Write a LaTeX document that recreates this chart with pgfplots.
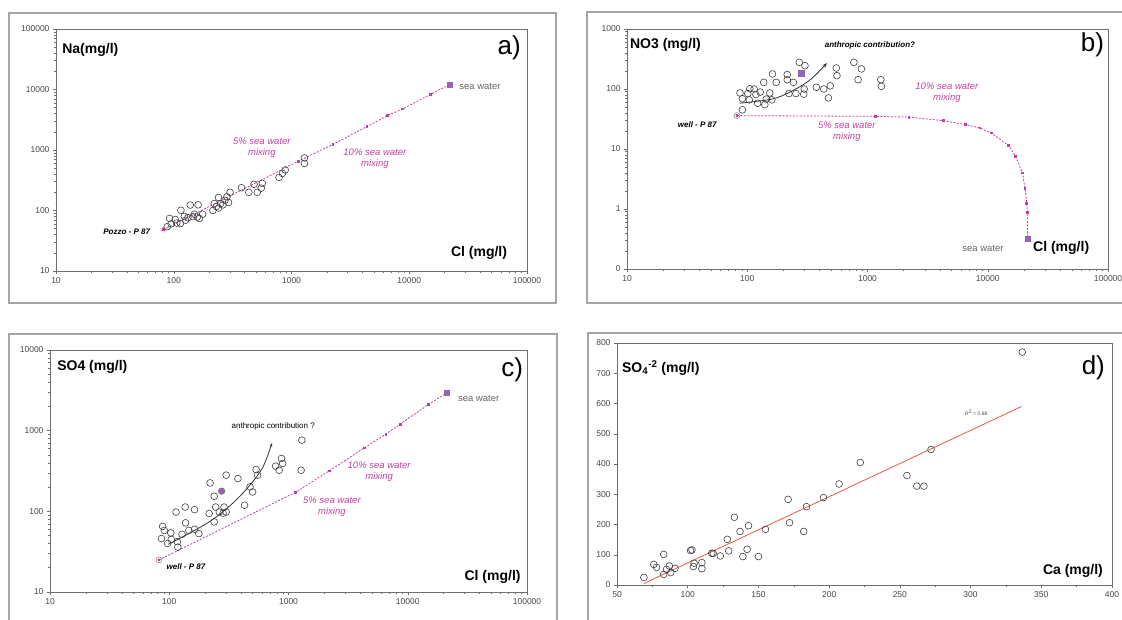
\documentclass[border=0pt]{standalone}
\usepackage{fontspec}
\setmainfont{Liberation Sans}
\usepackage{pgfplots}
\pgfplotsset{compat=1.18}
\usetikzlibrary{arrows.meta}
\definecolor{mix}{RGB}{196,64,160}
\definecolor{sw}{RGB}{150,100,180}
\definecolor{framec}{RGB}{165,165,165}
\definecolor{axc}{RGB}{110,110,110}
\definecolor{trend}{RGB}{232,90,75}
\pgfplotsset{
 panel/.style={scale only axis, clip=false,
   axis line style={axc, line width=0.7pt},
   tick style={axc, line width=0.5pt},
   tick align=outside, xtick pos=bottom, ytick pos=left,
   major tick length=3pt, minor tick length=2pt,
   tick label style={font=\fontsize{8.5}{9}\selectfont, text=black!72},
   /pgf/number format/assume math mode=true,
   /pgf/number format/1000 sep={},
 },
 logp/.style={panel, xmin=10, xmax=100000,
   xtick={10,100,1000,10000,100000}, xticklabels={10,100,1000,10000,100000},
   minor xtick={20,30,40,50,60,70,80,90,200,300,400,500,600,700,800,900,2000,3000,4000,5000,6000,7000,8000,9000,20000,30000,40000,50000,60000,70000,80000,90000}},
 obs/.style={only marks, mark=o, mark size=3.4pt, black!75, mark options={line width=0.6pt}},
 mixl/.style={mix, line width=0.8pt, dash pattern=on 2pt off 1.5pt, mark=square*, mark size=0.9pt, mark options={solid}},
 swm/.style={only marks, mark=square*, mark size=2.6pt, sw},
}
\tikzset{
 lab/.style={font=\fontsize{14}{16}\selectfont\bfseries, inner sep=0pt},
 big/.style={font=\fontsize{26}{28}\selectfont, inner sep=0pt},
 mixtxt/.style={font=\fontsize{9.5}{11}\selectfont\itshape, text=mix, align=center, inner sep=0pt},
 swtxt/.style={font=\fontsize{9.5}{11}\selectfont, text=black!60, inner sep=0pt},
 welltxt/.style={font=\fontsize{8}{9}\selectfont\bfseries\itshape, inner sep=0pt},
}
\begin{document}
\begin{tikzpicture}
\useasboundingbox (0,0) rectangle (1122pt,-620pt);
\fill[white] (0,0) rectangle (1122pt,-620pt);
\draw[framec, line width=1.2pt] (9pt,-13pt) rectangle (556pt,-303pt);
\draw[framec, line width=1.2pt] (587pt,-12pt) rectangle (1135pt,-303pt);
\draw[framec, line width=1.2pt] (9pt,-334pt) rectangle (557pt,-640pt);
\draw[framec, line width=1.2pt] (588pt,-333pt) rectangle (1135pt,-640pt);

% ---------------- a)
\begin{axis}[xmode=log, ymode=log, logp, at={(56pt,-271pt)}, anchor=south west, width=471pt, height=242pt,
  ymin=10, ymax=100000, ytick={10,100,1000,10000,100000}, yticklabels={10,100,1000,10000,100000},
  minor ytick={20,30,40,50,60,70,80,90,200,300,400,500,600,700,800,900,2000,3000,4000,5000,6000,7000,8000,9000,20000,30000,40000,50000,60000,70000,80000,90000}]
\addplot[mixl] coordinates {(82,48)(1150,658)(2250,1240)(4370,2440)(6550,3720)(8790,4780)(15100,8300)(21900,11950)};
\addplot[swm] coordinates {(21900,11950)};
\addplot[only marks, mark=o, mark size=2.5pt, mix!60] coordinates {(82,48)};
\addplot[obs] coordinates {(88,54)(92,74)(95,60)(103,71)(106,62)(114,61)(115,101)(123,80)(126,69)(132,76)(138,123)(145,79)(150,87)(158,78)(161,124)(165,74)(176,87)(215,100)(221,130)(230,116)(240,164)(240,110)(250,130)(262,124)(272,147)(283,168)(292,136)(301,200)(376,238)(434,200)(481,271)(512,200)(554,234)(565,280)(784,352)(837,410)(884,468)(1287,740)(1287,600)};
\node[lab, anchor=west] at (rel axis cs:0.013,0.913) {Na(mg/l)};
\node[big, anchor=east] at (rel axis cs:0.987,0.921) {a)};
\node[lab, anchor=east] at (rel axis cs:0.958,0.074) {Cl (mg/l)};
\node[welltxt, anchor=east] at (rel axis cs:0.2,0.161) {Pozzo - P 87};
\node[mixtxt] at (rel axis cs:0.437,0.508) {5\% sea water\\mixing};
\node[mixtxt] at (rel axis cs:0.677,0.465) {10\% sea water\\mixing};
\node[swtxt, anchor=west] at (rel axis cs:0.856,0.764) {sea water};
\end{axis}

% ---------------- b)
\begin{axis}[xmode=log, ymode=log, logp, at={(627pt,-269pt)}, anchor=south west, width=481pt, height=240pt,
  ymin=0.1, ymax=1000, ytick={0.1,1,10,100,1000}, yticklabels={0,1,10,100,1000},
  minor ytick={0.2,0.3,0.4,0.5,0.6,0.7,0.8,0.9,2,3,4,5,6,7,8,9,20,30,40,50,60,70,80,90,200,300,400,500,600,700,800,900}]
\addplot[mixl] coordinates {(82,36)(1164,35)(2213,34)(4295,29.6)(6520,25.5)(8610,22.4)(10720,18.5)(14920,11.4)(17040,7.5)(19470,4)(20380,2.2)(21100,1.24)(21300,0.87)(21470,0.316)};
\addplot[swm] coordinates {(21470,0.316)};
\addplot[only marks, mark=o, mark size=3pt, black!60] coordinates {(82,36)};
\addplot[only marks, mark=*, mark size=1.2pt, mix] coordinates {(82,36)};
\addplot[obs] coordinates {(87,86)(91,45)(91,69)(101,84)(105,101)(104,66)(114,100)(118,81)(122,58)(128,89)(137,129)(140,55)(144,68)(154,86)(162,178)(160,66)(174,129)(215,174)(215,143)(222,84)(242,129)(254,84)(271,278)(302,245)(295,82)(298,100)(375,107)(433,100)(473,71)(490,113)(550,224)(557,167)(770,278)(890,216)(835,143)(1290,143)(1305,111)};
\addplot[only marks, mark=square*, mark size=3pt, sw] coordinates {(281,180)};
\addplot[black!80, line width=0.8pt, smooth, -{Stealth[length=5pt]}] coordinates {(87,58)(161,68)(227,89)(332,141)(460,271)};
\node[lab, anchor=west] at (rel axis cs:0.006,0.933) {NO3 (mg/l)};
\node[welltxt] at (rel axis cs:0.505,0.933) {anthropic contribution?};
\node[big, anchor=east] at (rel axis cs:0.992,0.933) {b)};
\node[welltxt] at (rel axis cs:0.146,0.6) {well - P 87};
\node[mixtxt] at (rel axis cs:0.665,0.735) {10\% sea water\\mixing};
\node[mixtxt] at (rel axis cs:0.457,0.571) {5\% sea water\\mixing};
\node[swtxt] at (rel axis cs:0.74,0.0875) {sea water};
\node[lab, anchor=west] at (rel axis cs:0.844,0.0875) {Cl (mg/l)};
\end{axis}

% ---------------- c)
\begin{axis}[xmode=log, ymode=log, logp, at={(50pt,-592pt)}, anchor=south west, width=477pt, height=242pt,
  ymin=10, ymax=10000, ytick={10,100,1000,10000}, yticklabels={10,100,1000,10000},
  minor ytick={20,30,40,50,60,70,80,90,200,300,400,500,600,700,800,900,2000,3000,4000,5000,6000,7000,8000,9000}]
\addplot[mixl] coordinates {(82,25)(1150,173)(2200,318)(4330,613)(6550,906)(8630,1206)(15000,2120)(21200,2950)};
\addplot[swm] coordinates {(21200,2950)};
\addplot[only marks, mark=o, mark size=3pt, black!60] coordinates {(82,25)};
\addplot[only marks, mark=*, mark size=1.2pt, mix] coordinates {(82,25)};
\addplot[obs] coordinates {(88,65)(91,58)(86,46)(97,40)(103,54)(104,45)(114,98)(118,36)(117,42)(128,52)(136,113)(137,72)(146,58)(163,105)(163,60)(177,53)(216,94)(220,225)(238,154)(238,74)(245,113)(263,98)(283,95)(288,113)(300,281)(300,98)(377,255)(428,119)(476,201)(500,174)(535,330)(550,281)(780,363)(835,323)(873,452)(893,392)(1276,323)(1294,764)};
\addplot[only marks, mark=*, mark size=3.3pt, sw, mark options={draw=black!60}] coordinates {(275,178)};
\addplot[black!80, line width=0.8pt, smooth, -{Stealth[length=4pt]}] coordinates {(98,39)(149,54)(228,78)(343,127)(476,212)(611,355)(728,703)};
\node[lab, anchor=west] at (rel axis cs:0.015,0.93) {SO4 (mg/l)};
\node[big, anchor=east] at (rel axis cs:0.992,0.917) {c)};
\node[font=\fontsize{8}{9}\selectfont, inner sep=0pt] at (rel axis cs:0.468,0.686) {anthropic contribution ?};
\node[swtxt, anchor=west] at (rel axis cs:0.855,0.80) {sea water};
\node[mixtxt] at (rel axis cs:0.69,0.496) {10\% sea water\\mixing};
\node[mixtxt] at (rel axis cs:0.591,0.351) {5\% sea water\\mixing};
\node[welltxt] at (rel axis cs:0.285,0.103) {well - P 87};
\node[lab, anchor=east] at (rel axis cs:0.987,0.062) {Cl (mg/l)};
\end{axis}

% ---------------- d)
\begin{axis}[panel, at={(617pt,-585pt)}, anchor=south west, width=495pt, height=242pt,
  xmin=50, xmax=400, ymin=0, ymax=800,
  xtick={50,100,150,200,250,300,350,400}, ytick={0,100,200,300,400,500,600,700,800},
  minor x tick num=1]
\addplot[trend, line width=0.8pt] coordinates {(69,5)(336,590)};
\addplot[obs] coordinates {(69,25)(76,68)(78,58)(83,101)(83,35)(85,52)(87,63)(88,41)(91,55)(102,114)(103,116)(104,61)(104.5,72)(110,74)(110,54)(117,105)(118,105)(123,96)(128,151)(129,113)(133,224)(137,177)(139,94)(142,118)(143,196)(150,94)(155,184)(171,283)(172,206)(182,177)(184,259)(196,289)(207,334)(222,405)(255,362)(262,327)(267,327)(272,448)(336.5,770)};
\node[font=\fontsize{5}{6}\selectfont, text=black!70] at (axis cs:304,569) {R\textsuperscript{2} = 0.88};
\node[lab, anchor=west] at (rel axis cs:0.01,0.897) {SO\textsubscript{4}\textsuperscript{-2} (mg/l)};
\node[big, anchor=east] at (rel axis cs:0.986,0.897) {d)};
\node[lab, anchor=east] at (rel axis cs:0.982,0.058) {Ca (mg/l)};
\end{axis}
\end{tikzpicture}
\end{document}
